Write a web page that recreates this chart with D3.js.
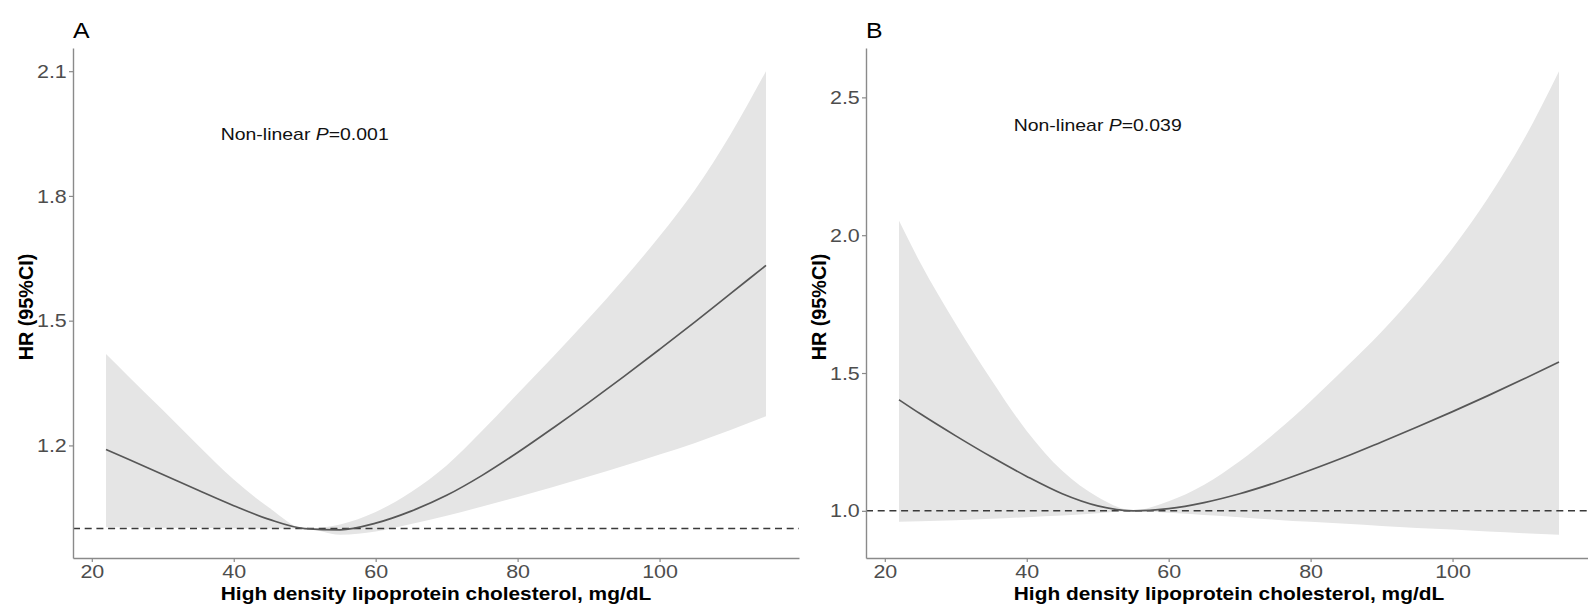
<!DOCTYPE html>
<html>
<head>
<meta charset="utf-8">
<script src="https://cdn.jsdelivr.net/npm/d3@7"></script>
<style>
    body { margin: 0; background: #fff; }
    svg { display: block; font-family: "Liberation Sans", Arial, sans-serif; }
</style>
</head>
<body>
<div id="chart"></div>
<script>
// HDL cholesterol (mg/dL) where the spline curves were read
let hdl = [22, 25, 30, 35, 40, 45, 50, 55, 60, 65, 70, 75, 80, 85, 90, 95, 100, 105, 110, 115];

// panel A: hazard ratio and 95% CI
let hrA    = [1.190, 1.168, 1.130, 1.092, 1.055, 1.022, 1.000, 0.997, 1.013, 1.042, 1.080, 1.128, 1.183, 1.242, 1.303, 1.366, 1.431, 1.497, 1.565, 1.633];
let lowerA = [1.003, 1.003, 1.002, 1.002, 1.001, 1.000, 1.000, 0.985, 0.993, 1.011, 1.031, 1.053, 1.076, 1.100, 1.125, 1.151, 1.178, 1.206, 1.237, 1.270];
let upperA = [1.420, 1.369, 1.285, 1.200, 1.118, 1.050, 1.000, 1.010, 1.040, 1.088, 1.152, 1.235, 1.324, 1.413, 1.505, 1.601, 1.703, 1.815, 1.948, 2.100];
let yTicksA = [1.2, 1.5, 1.8, 2.1];

// panel B: hazard ratio and 95% CI
let hrB    = [1.403, 1.352, 1.272, 1.196, 1.125, 1.062, 1.018, 1.000, 1.008, 1.030, 1.062, 1.102, 1.148, 1.197, 1.250, 1.304, 1.360, 1.418, 1.478, 1.540];
let lowerB = [0.960, 0.962, 0.966, 0.971, 0.977, 0.983, 0.991, 0.999, 0.993, 0.985, 0.977, 0.968, 0.960, 0.953, 0.945, 0.938, 0.932, 0.925, 0.919, 0.913];
let upperB = [2.052, 1.900, 1.678, 1.476, 1.290, 1.145, 1.050, 1.002, 1.035, 1.095, 1.180, 1.283, 1.398, 1.522, 1.650, 1.793, 1.953, 2.135, 2.345, 2.595];
let yTicksB = [1.0, 1.5, 2.0, 2.5];

let xTicks = [20, 40, 60, 80, 100];
let panelLabels = ["A", "B"];
let pValues = ["0.001", "0.039"];
let xTitle = "High density lipoprotein cholesterol, mg/dL";
let yTitle = "HR (95%CI)";

let W = 1588, H = 611;
let plotTop = 48, plotBottom = 558;
let SX = 1.13; // the source text is a little wider than plain Arial

let svg = d3.select("#chart").append("svg")
    .attr("width", W)
    .attr("height", H);

// ggplot style 5% padding of the data range
function expand(ext) {
    let pad = (ext[1] - ext[0]) * 0.05;
    return [ext[0] - pad, ext[1] + pad];
}

function drawPanel(p) {
    let x = d3.scaleLinear().domain(expand(d3.extent(hdl))).range([p.left, p.right]);
    let y = d3.scaleLinear().domain(expand([d3.min(p.lower), d3.max(p.upper)])).range([plotBottom, plotTop]);

    let rows = hdl.map(function (d, i) {
        return {x: d, hr: p.hr[i], lo: p.lower[i], hi: p.upper[i]};
    });

    let g = svg.append("g");

    // confidence band
    g.append("path").datum(rows)
        .attr("fill", "#e5e5e5")
        .attr("d", d3.area()
            .x(d => x(d.x))
            .y0(d => y(d.lo))
            .y1(d => y(d.hi))
            .curve(d3.curveMonotoneX));

    // HR = 1 reference
    g.append("line")
        .attr("x1", p.left).attr("x2", p.right)
        .attr("y1", y(1)).attr("y2", y(1))
        .attr("stroke", "#3a3a3a")
        .attr("stroke-width", 1.5)
        .attr("stroke-dasharray", "7,4.7");

    // spline estimate
    g.append("path").datum(rows)
        .attr("fill", "none")
        .attr("stroke", "#575757")
        .attr("stroke-width", 1.7)
        .attr("d", d3.line()
            .x(d => x(d.x))
            .y(d => y(d.hr))
            .curve(d3.curveMonotoneX));

    // axes
    let gx = g.append("g")
        .attr("transform", "translate(0," + plotBottom + ")")
        .call(d3.axisBottom(x).tickValues(xTicks).tickSize(4).tickSizeOuter(0).tickPadding(3));
    let gy = g.append("g")
        .attr("transform", "translate(" + p.left + ",0)")
        .call(d3.axisLeft(y).tickValues(p.yTicks).tickSize(4).tickSizeOuter(0).tickPadding(1.5)
            .tickFormat(d3.format(".1f")));

    [gx, gy].forEach(function (ax) {
        ax.attr("font-family", null).attr("font-size", null);
        ax.select(".domain").attr("stroke", "#8a8a8a").attr("stroke-width", 1.4);
        ax.selectAll(".tick line").attr("stroke", "#8a8a8a").attr("stroke-width", 1.2);
        ax.selectAll(".tick text")
            .attr("fill", "#4d4d4d")
            .style("font-size", "19px")
            .attr("transform", "scale(" + SX + ",1)");
    });

    // axis titles
    g.append("text")
        .attr("transform", "translate(" + ((p.left + p.right) / 2) + ",600) scale(" + SX + ",1)")
        .attr("text-anchor", "middle")
        .style("font-size", "18.5px")
        .style("font-weight", "bold")
        .text(xTitle);

    g.append("text")
        .attr("transform", "translate(" + (p.left - 40) + ",307) rotate(-90)")
        .attr("text-anchor", "middle")
        .style("font-size", "19.8px")
        .style("font-weight", "bold")
        .text(yTitle);

    // panel tag
    g.append("text")
        .attr("transform", "translate(" + p.left + ",38) scale(" + SX + ",1)")
        .style("font-size", "22px")
        .text(p.label);

    // non-linearity p value
    let note = g.append("text")
        .attr("transform", "translate(" + x(p.noteX) + "," + y(p.noteY) + ") scale(" + SX + ",1)")
        .attr("text-anchor", "middle")
        .attr("dominant-baseline", "central")
        .style("font-size", "17.2px")
        .attr("fill", "#111");
    note.append("tspan").text("Non-linear ");
    note.append("tspan").style("font-style", "italic").text("P");
    note.append("tspan").text("=" + p.pValue);
}

drawPanel({left: 73, right: 799, label: panelLabels[0], hr: hrA, lower: lowerA, upper: upperA,
    yTicks: yTicksA, pValue: pValues[0], noteX: 50, noteY: 1.95});
drawPanel({left: 866, right: 1592, label: panelLabels[1], hr: hrB, lower: lowerB, upper: upperB,
    yTicks: yTicksB, pValue: pValues[1], noteX: 50, noteY: 2.4});
</script>
</body>
</html>
